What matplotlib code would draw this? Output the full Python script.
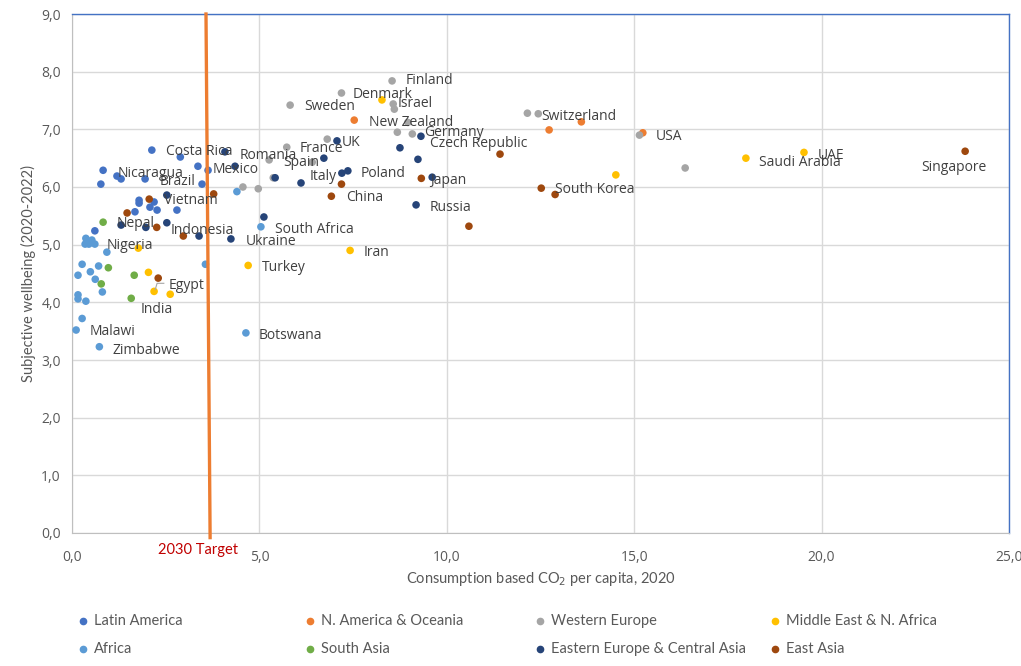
import matplotlib
matplotlib.use("Agg")
import matplotlib.pyplot as plt
from matplotlib.lines import Line2D

# ---------------- data ----------------
latam_x = [2.13, 2.89, 3.36, 3.63, 0.83, 1.20, 1.31, 1.95, 0.77, 3.47, 1.79, 1.79,
           2.19, 2.08, 2.27, 1.68, 2.80, 0.61]
latam_y = [6.64, 6.52, 6.36, 6.29, 6.29, 6.19, 6.14, 6.14, 6.05, 6.05, 5.77, 5.72,
           5.74, 5.65, 5.60, 5.57, 5.60, 5.24]

nao_x = [7.53, 12.73, 13.59, 15.23]
nao_y = [7.16, 6.99, 7.13, 6.94]

we_x = [8.54, 7.19, 5.82, 8.57, 8.60, 8.68, 9.08, 8.96, 6.81, 5.73, 5.26, 6.41,
        5.37, 4.56, 4.97, 12.15, 12.44, 15.14, 16.36]
we_y = [7.84, 7.63, 7.42, 7.44, 7.35, 6.95, 6.92, 7.12, 6.83, 6.69, 6.47, 6.43,
        6.16, 6.00, 5.97, 7.28, 7.27, 6.90, 6.33]

mena_x = [1.77, 2.04, 2.19, 2.62, 4.70, 7.42, 8.27, 14.51, 17.98, 19.53]
mena_y = [4.94, 4.52, 4.19, 4.14, 4.64, 4.90, 7.51, 6.21, 6.50, 6.60]

africa_x = [0.37, 0.53, 0.35, 0.45, 0.61, 0.93, 0.27, 0.71, 0.16, 0.49, 0.62, 0.81,
            0.16, 0.16, 0.37, 0.27, 0.11, 0.73, 3.56, 4.40, 5.04, 4.64]
africa_y = [5.11, 5.08, 5.01, 5.01, 5.01, 4.87, 4.66, 4.63, 4.47, 4.53, 4.40, 4.18,
            4.13, 4.06, 4.02, 3.72, 3.52, 3.23, 4.66, 5.92, 5.31, 3.47]

sasia_x = [0.83, 0.97, 1.66, 0.78, 1.58]
sasia_y = [5.39, 4.60, 4.47, 4.32, 4.07]

eeca_x = [2.53, 1.31, 1.97, 2.53, 3.39, 4.08, 4.35, 5.12, 4.24, 5.42, 6.11, 6.72,
          7.07, 7.20, 7.36, 8.75, 9.23, 9.31, 9.61, 9.18]
eeca_y = [5.86, 5.34, 5.30, 5.38, 5.15, 6.61, 6.36, 5.48, 5.10, 6.16, 6.07, 6.50,
          6.80, 6.24, 6.28, 6.68, 6.48, 6.88, 6.17, 5.69]

easia_x = [2.06, 1.47, 2.26, 2.97, 3.78, 2.30, 7.19, 6.92, 9.32, 11.42, 12.52, 12.89,
           23.83, 10.59]
easia_y = [5.79, 5.55, 5.30, 5.15, 5.88, 4.42, 6.05, 5.84, 6.15, 6.57, 5.98, 5.87,
           6.62, 5.32]

group_names = ["Latin America", "N. America & Oceania", "Western Europe",
               "Middle East & N. Africa", "Africa", "South Asia",
               "Eastern Europe & Central Asia", "East Asia"]
group_colors = ["#4472C4", "#ED7D31", "#A5A5A5", "#FFC000",
                "#5B9BD5", "#70AD47", "#264478", "#9E480E"]
group_x = [latam_x, nao_x, we_x, mena_x, africa_x, sasia_x, eeca_x, easia_x]
group_y = [latam_y, nao_y, we_y, mena_y, africa_y, sasia_y, eeca_y, easia_y]

label_names = ["Finland", "Denmark", "Israel", "Sweden", "New Zealand", "Switzerland",
               "Germany", "USA", "Czech Republic", "UK", "Costa Rica", "Romania",
               "France", "UAE", "Spain", "Saudi Arabia", "Mexico", "Singapore",
               "Nicaragua", "Italy", "Poland", "Japan", "Brazil", "South Korea",
               "China", "Vietnam", "Russia", "Nepal", "Indonesia", "South Africa",
               "Ukraine", "Nigeria", "Iran", "Turkey", "Egypt", "India", "Malawi",
               "Zimbabwe", "Botswana"]
label_x = [8.91, 7.50, 8.70, 6.19, 7.92, 12.51, 9.39, 15.58, 9.55, 7.20, 2.51, 4.48,
           6.08, 19.90, 5.63, 18.33, 3.76, 22.65, 1.23, 6.35, 7.71, 9.55, 2.35, 12.89,
           7.31, 2.45, 9.55, 1.20, 2.64, 5.42, 4.64, 0.93, 7.79, 5.07, 2.59, 1.84,
           0.48, 1.07, 4.99]
label_y = [7.85, 7.61, 7.45, 7.39, 7.11, 7.23, 6.94, 6.88, 6.76, 6.78, 6.61, 6.55,
           6.66, 6.55, 6.43, 6.43, 6.31, 6.33, 6.24, 6.19, 6.24, 6.12, 6.10, 5.95,
           5.81, 5.76, 5.64, 5.36, 5.24, 5.27, 5.06, 4.99, 4.87, 4.60, 4.30, 3.88,
           3.49, 3.17, 3.42]

y_ticks = [0, 1, 2, 3, 4, 5, 6, 7, 8, 9]
x_ticks = [0, 5, 10, 15, 20, 25]
target_line_x = [3.575, 3.685]
target_line_y = [9.0, -0.08]

# ---------------- figure ----------------
fig = plt.figure(figsize=(10.21, 6.66), dpi=100)
ax = fig.add_axes([72 / 1021, 1 - 533 / 666, (1009 - 72) / 1021, (533 - 14) / 666])

ax.set_xlim(0, 25)
ax.set_ylim(0, 9)
ax.set_xticks(x_ticks)
ax.set_yticks(y_ticks)
ax.set_xticklabels([f"{v:.1f}".replace(".", ",") for v in x_ticks])
ax.set_yticklabels([f"{v:.1f}".replace(".", ",") for v in y_ticks])
ax.tick_params(length=0, labelsize=10, labelcolor="#595959", pad=12)
ax.tick_params(axis="y", pad=8)
for lab in ax.get_xticklabels() + ax.get_yticklabels():
    lab.set_fontfamily("Open Sans")

ax.grid(True, color="#D9D9D9", linewidth=1)
ax.set_axisbelow(True)
for s in ["left", "bottom"]:
    ax.spines[s].set_color("#BFBFBF")
for s in ["top", "right"]:
    ax.spines[s].set_color("#4472C4")
    ax.spines[s].set_linewidth(1.0)

for gx, gy, c in zip(group_x, group_y, group_colors):
    ax.scatter(gx, gy, s=30, color=c, edgecolors="none", zorder=3)

ax.plot(target_line_x, target_line_y, color="#ED7D31", linewidth=2.4,
        clip_on=False, zorder=4)

for name, lx, ly in zip(label_names, label_x, label_y):
    ax.text(lx, ly, name, fontsize=10, color="#404040", va="center", ha="left",
            family="Open Sans", zorder=5)

# Egypt leader line
ax.plot([2.22, 2.27, 2.45], [4.22, 4.33, 4.33], color="#A6A6A6", linewidth=0.8, zorder=4)

ax.set_xlabel("Consumption based CO$_2$ per capita, 2020", fontsize=10.5,
              color="#595959", family="Lato", labelpad=4)
ax.set_ylabel("Subjective wellbeing (2020-2022)", fontsize=10.5, color="#595959",
              family="Lato", labelpad=4)

fig.text(198 / 1021, 1 - 550 / 666, "2030 Target", color="#C00000", fontsize=10.5,
         family="Lato", ha="center", va="center")

# legend (manual grid, 4 columns x 2 rows)
col_px = [83, 310, 540, 775]
row_px = [621, 649]
order = [(0, 0), (0, 1), (0, 2), (0, 3), (1, 0), (1, 1), (1, 2), (1, 3)]
for (r, c), name, color in zip(order, group_names, group_colors):
    xm = col_px[c] / 1021
    ym = 1 - row_px[r] / 666
    fig.add_artist(Line2D([xm], [ym], marker="o", markersize=4.5, color=color,
                          linestyle="none", transform=fig.transFigure))
    fig.text(xm + 11 / 1021, ym, name, fontsize=10.5, color="#595959",
             family="Lato", va="center", ha="left")

fig.savefig("out.png", dpi=100)
